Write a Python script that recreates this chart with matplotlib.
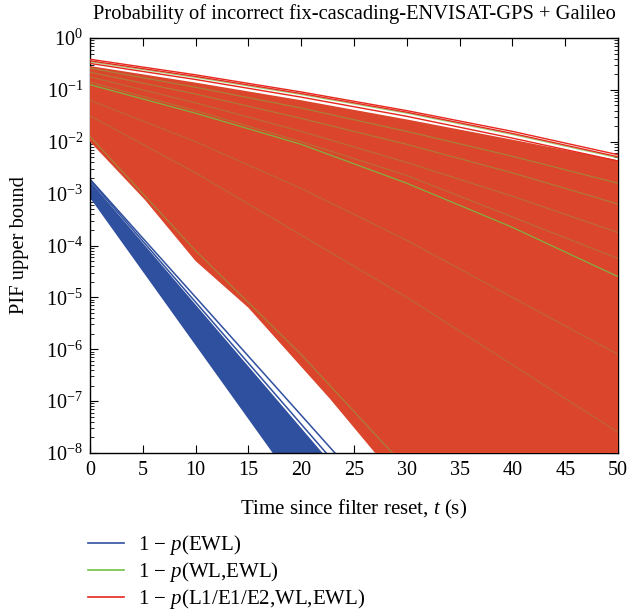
import numpy as np
import matplotlib
matplotlib.use("Agg")
import matplotlib.pyplot as plt
from matplotlib.lines import Line2D
from matplotlib.ticker import LogLocator, FixedLocator

plt.rcParams["font.family"] = ["Liberation Serif", "DejaVu Serif"]
plt.rcParams["mathtext.fontset"] = "custom"
plt.rcParams["mathtext.rm"] = "Liberation Serif"
plt.rcParams["mathtext.it"] = "Liberation Serif:italic"

# ---- data (log10 of the PIF upper bound) ----
t_nodes = [0, 10, 20, 30, 40, 50]

# EWL family: dense band bounded by two edges, plus two separate lines
ewl_edge_t = [0, 25]
ewl_band_upper = [-2.76, -8.71]
ewl_band_lower = [-3.08, -10.19]
ewl_lines = [
    [-2.74, -8.62],
    [-2.72, -8.41],
]

# L1/E1/E2 family: dense region envelope
full_top_t = [0, 10, 20, 30, 40, 50]
full_top = [-0.54, -0.86, -1.20, -1.57, -1.96, -2.36]
full_bot_t = [0, 5.2, 10, 15, 22.7, 27, 50]
full_bot = [-2.0, -3.12, -4.30, -5.20, -6.95, -8.0, -13.2]

# individual L1/E1/E2 lines above the dense region
full_lines = [
    [-0.41, -0.71, -1.04, -1.40, -1.80, -2.25],
    [-0.44, -0.74, -1.07, -1.43, -1.84, -2.29],
    [-0.49, -0.80, -1.14, -1.51, -1.93, -2.37],
]

# WL,EWL family lines
wl_lines = [
    [-0.46, -0.76, -1.09, -1.45, -1.86, -2.31],
    [-0.58, -0.95, -1.35, -1.80, -2.28, -2.80],
    [-0.66, -1.08, -1.55, -2.05, -2.60, -3.20],
    [-0.75, -1.25, -1.80, -2.40, -3.05, -3.75],
    [-0.85, -1.40, -2.00, -2.65, -3.45, -4.25],
    [-0.90, -1.45, -2.05, -2.80, -3.65, -4.60],
    [-1.20, -2.00, -2.90, -3.90, -5.00, -6.10],
    [-1.50, -2.60, -3.80, -5.00, -6.30, -7.60],
    [-1.90, -4.10, -6.10, -8.30, -10.5, -12.7],
]
# how strongly each WL,EWL line shows through the dense region
wl_alpha = [0.7, 0.45, 0.4, 0.3, 0.3, 0.85, 0.25, 0.25, 0.45]

x_ticks = [0, 5, 10, 15, 20, 25, 30, 35, 40, 45, 50]

BLUE = "#2f4f9f"
GREEN = "#72c244"
RED = "#e6281e"
RED_MASS = "#da452c"

fig = plt.figure(figsize=(6.28, 6.12), dpi=100)
ax = fig.add_axes([90 / 628, 1 - 453 / 612, 528 / 628, 415 / 612])

p10 = lambda v: np.power(10.0, np.asarray(v, dtype=float))

# EWL band
bx = list(ewl_edge_t) + list(ewl_edge_t)[::-1]
by = list(ewl_band_upper) + list(ewl_band_lower)[::-1]
ax.fill(bx, p10(by), color=BLUE, lw=0, zorder=2)
for ln in ewl_lines:
    ax.plot(ewl_edge_t, p10(ln), color=BLUE, lw=1.1, zorder=2)

# L1/E1/E2 dense region
mx = list(full_top_t) + list(full_bot_t)[::-1]
my = list(full_top) + list(full_bot)[::-1]
ax.fill(mx, p10(my), color=RED_MASS, lw=0, zorder=3)

for ln, a in zip(wl_lines, wl_alpha):
    ax.plot(t_nodes, p10(ln), color=GREEN, lw=0.9, alpha=a, zorder=4)
for ln in full_lines:
    ax.plot(t_nodes, p10(ln), color=RED, lw=1.0, zorder=5)

ax.set_yscale("log")
ax.set_xlim(0, 50)
ax.set_ylim(1e-8, 1)
ax.xaxis.set_major_locator(FixedLocator(x_ticks))
ax.yaxis.set_major_locator(LogLocator(base=10, numticks=20))
ax.yaxis.set_minor_locator(LogLocator(base=10, subs=np.arange(2, 10), numticks=20))
ax.tick_params(which="both", direction="in", top=True, right=True, labelsize=14.5)
ax.tick_params(which="major", length=6, width=0.8)
ax.tick_params(which="minor", length=3, width=0.6)
ax.tick_params(axis="x", pad=6)
ax.tick_params(axis="y", pad=5)
for s in ax.spines.values():
    s.set_linewidth(1.0)

fig.text(354 / 628, 1 - 14 / 612,
         "Probability of incorrect fix-cascading-ENVISAT-GPS + Galileo",
         fontsize=14.8, ha="center", va="center")
ax.set_xlabel(r"Time since filter reset, $t$ (s)", fontsize=15, labelpad=13)
ax.set_ylabel("PIF upper bound", fontsize=14.8, labelpad=12)

handles = [
    Line2D([], [], color=BLUE, lw=1.2),
    Line2D([], [], color=GREEN, lw=1.2),
    Line2D([], [], color=RED, lw=1.2),
]
labels = [r"1 $-$ $p$(EWL)", r"1 $-$ $p$(WL,EWL)", r"1 $-$ $p$(L1/E1/E2,WL,EWL)"]
fig.legend(handles, labels, loc="upper left", bbox_to_anchor=(88 / 628, 1 - 533 / 612),
           frameon=False, fontsize=15, handlelength=1.75, labelspacing=0.15,
           handletextpad=0.65, borderpad=0, borderaxespad=0)

fig.savefig("out.png", dpi=100)
